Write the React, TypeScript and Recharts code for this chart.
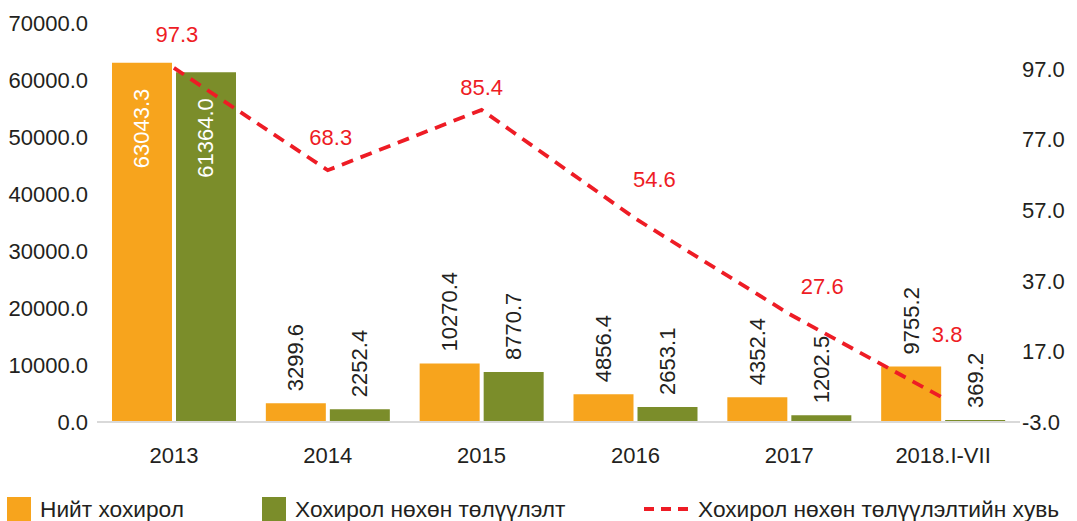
import { ComposedChart, Bar, Line, XAxis, YAxis, LabelList } from "recharts";

const categories = ["2013", "2014", "2015", "2016", "2017", "2018.I-VII"];
const totalLoss = [63043.3, 3299.6, 10270.4, 4856.4, 4352.4, 9755.2];
const recovered = [61364.0, 2252.4, 8770.7, 2653.1, 1202.5, 369.2];
const recoveryRate = [97.3, 68.3, 85.4, 54.6, 27.6, 3.8];
const leftTicks = [0, 10000, 20000, 30000, 40000, 50000, 60000, 70000];
const rightTicks = [-3, 17, 37, 57, 77, 97];

const seriesNames = ["Нийт хохирол", "Хохирол нөхөн төлүүлэлт", "Хохирол нөхөн төлүүлэлтийн хувь"];

const ORANGE = "#F7A41D";
const GREEN = "#7B8D2A";
const RED = "#EE1C25";
const TEXT = "#231F20";
const FONT = "Arial, 'Liberation Sans', sans-serif";

// label nudges for the percentage labels, placed by hand in the original
const rateLabelShift = [
  [3, -33],
  [3, -33],
  [0, -22],
  [19, -39],
  [33, -27],
  [4, -63],
];

const data = categories.map((name, i) => ({
  name,
  total: totalLoss[i],
  recovered: recovered[i],
  rate: recoveryRate[i],
}));

const BarValueLabel = (props: any) => {
  const { x, y, width, height, value } = props;
  const cx = Number(x) + Number(width) / 2;
  const inside = Number(height) > 150;
  const ty = inside ? Number(y) + 26 : Number(y) - 12;
  return (
    <text
      x={cx}
      y={ty}
      transform={`rotate(-90 ${cx} ${ty})`}
      textAnchor={inside ? "end" : "start"}
      dominantBaseline="central"
      fill={inside ? "#fff" : TEXT}
      fontSize={22}
      fontFamily={FONT}
    >
      {Number(value).toFixed(1)}
    </text>
  );
};

const RateLabel = (props: any) => {
  const { x, y, value, index } = props;
  const [dx, dy] = rateLabelShift[index] || [0, -30];
  return (
    <text
      x={Number(x) + dx}
      y={Number(y) + dy}
      textAnchor="middle"
      dominantBaseline="central"
      fill={RED}
      fontSize={22}
      fontFamily={FONT}
    >
      {Number(value).toFixed(1)}
    </text>
  );
};

const legendText = { position: "absolute" as const, top: 497, fontSize: 22.7, lineHeight: "24px", color: TEXT, fontFamily: FONT, whiteSpace: "nowrap" as const };

export default function App() {
  return (
    <div style={{ position: "absolute", left: 0, top: 0, width: 1077, height: 521, background: "#fff", overflow: "hidden" }}>
      <ComposedChart
        width={1077}
        height={521}
        data={data}
        margin={{ top: 23, right: 0, bottom: 59, left: 0 }}
        barGap={4}
        barCategoryGap={15}
      >
        <XAxis
          dataKey="name"
          axisLine={{ stroke: "#D9D9D9", strokeWidth: 2 }}
          tickLine={false}
          tickSize={0}
          tickMargin={25}
          height={40}
          interval={0}
          tick={{ fill: TEXT, fontSize: 22, fontFamily: FONT }}
        />
        <YAxis
          yAxisId="left"
          width={97}
          domain={[0, 70000]}
          ticks={leftTicks}
          axisLine={false}
          tickLine={false}
          tickSize={0}
          tickMargin={9}
          tickFormatter={(v) => Number(v).toFixed(1)}
          tick={{ fill: TEXT, fontSize: 22, fontFamily: FONT }}
        />
        <YAxis
          yAxisId="right"
          orientation="right"
          width={57}
          domain={[-3, 110]}
          ticks={rightTicks}
          axisLine={false}
          tickLine={false}
          tickSize={0}
          tickMargin={2}
          tickFormatter={(v) => Number(v).toFixed(1)}
          tick={{ fill: TEXT, fontSize: 22, fontFamily: FONT, textAnchor: "start" }}
        />
        <Bar yAxisId="left" dataKey="total" name={seriesNames[0]} fill={ORANGE} barSize={60} isAnimationActive={false}>
          <LabelList dataKey="total" content={BarValueLabel} />
        </Bar>
        <Bar yAxisId="left" dataKey="recovered" name={seriesNames[1]} fill={GREEN} barSize={60} isAnimationActive={false}>
          <LabelList dataKey="recovered" content={BarValueLabel} />
        </Bar>
        <Line
          yAxisId="right"
          type="linear"
          dataKey="rate"
          name={seriesNames[2]}
          stroke={RED}
          strokeWidth={3.8}
          strokeDasharray="12 8"
          dot={false}
          activeDot={false}
          isAnimationActive={false}
        >
          <LabelList dataKey="rate" content={RateLabel} />
        </Line>
      </ComposedChart>

      {/* legend */}
      <div style={{ position: "absolute", left: 7, top: 497, width: 24, height: 24, background: ORANGE }} />
      <div style={{ ...legendText, left: 40 }}>{seriesNames[0]}</div>
      <div style={{ position: "absolute", left: 262, top: 497, width: 24, height: 24, background: GREEN }} />
      <div style={{ ...legendText, left: 295 }}>{seriesNames[1]}</div>
      <svg style={{ position: "absolute", left: 644, top: 505 }} width={46} height={8}>
        <line x1={0} y1={4} x2={46} y2={4} stroke={RED} strokeWidth={3.8} strokeDasharray="10 7" />
      </svg>
      <div style={{ ...legendText, left: 698 }}>{seriesNames[2]}</div>
    </div>
  );
}
